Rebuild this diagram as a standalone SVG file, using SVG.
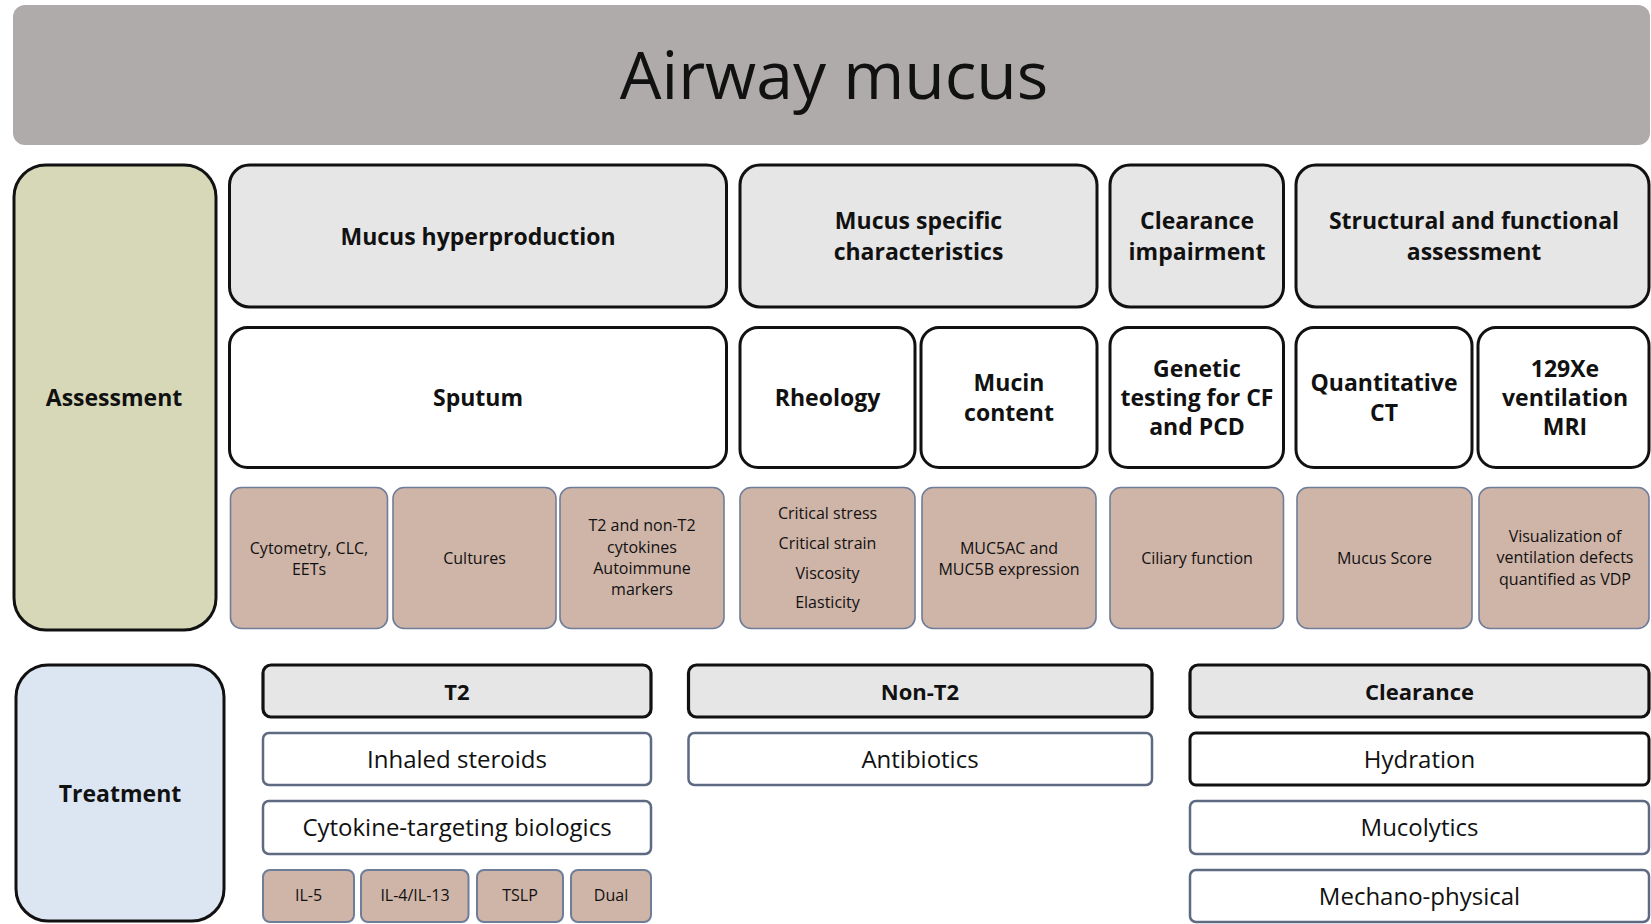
<svg xmlns="http://www.w3.org/2000/svg" width="1651" height="924" viewBox="0 0 1651 924">
<style>
text{font-family:"Open Sans","Liberation Sans",sans-serif;text-anchor:middle;dominant-baseline:central;fill:#111}
.b{font-weight:bold;font-size:23px}
.s{font-size:16px}
.m{font-size:24px}
.xs{font-size:16px}
.hd{fill:#e7e6e6;stroke:#111;stroke-width:3}
.wh{fill:#fff;stroke:#111;stroke-width:3}
.br{fill:#cfb4a8;stroke:#6f7d99;stroke-width:1.6}
.tw{fill:#fff;stroke:#5d6a82;stroke-width:2.5}
.tk{fill:#fff;stroke:#111;stroke-width:3}
.th{fill:#e7e6e6;stroke:#111;stroke-width:3.2}
</style>
<rect width="1651" height="924" fill="#fff"/>
<g id="title">
<rect x="13" y="5" width="1637" height="140" rx="12" fill="#afabab"/>
<text x="834" y="73" style="font-size:66px">Airway mucus</text>
</g>
<g id="assessment">
<rect x="14" y="165" width="202" height="465" rx="32" fill="#d6d8b8" stroke="#111" stroke-width="3"/>
<text class="b" x="114" y="397">Assessment</text>
</g>
<g id="mucus-hyperproduction">
<rect class="hd" x="229.5" y="165" width="497" height="142" rx="20"/>
<text class="b" x="478" y="236">Mucus hyperproduction</text>
</g>
<g id="mucus-specific">
<rect class="hd" x="740" y="165" width="357" height="142" rx="20"/>
<text class="b" x="918.5" y="220">Mucus specific</text>
<text class="b" x="918.5" y="251">characteristics</text>
</g>
<g id="clearance-impairment">
<rect class="hd" x="1110" y="165" width="173.5" height="142" rx="20"/>
<text class="b" x="1197" y="220">Clearance</text>
<text class="b" x="1197" y="251">impairment</text>
</g>
<g id="structural">
<rect class="hd" x="1296" y="165" width="353" height="142" rx="20"/>
<text class="b" x="1474" y="220">Structural and functional</text>
<text class="b" x="1474" y="251">assessment</text>
</g>
<g id="sputum">
<rect class="wh" x="229.5" y="327.5" width="497" height="140" rx="18"/>
<text class="b" x="478" y="397">Sputum</text>
</g>
<g id="rheology">
<rect class="wh" x="740" y="327.5" width="175" height="140" rx="18"/>
<text class="b" x="827.5" y="397">Rheology</text>
</g>
<g id="mucin-content">
<rect class="wh" x="921" y="327.5" width="176" height="140" rx="18"/>
<text class="b" x="1009" y="382">Mucin</text>
<text class="b" x="1009" y="412">content</text>
</g>
<g id="genetic-testing">
<rect class="wh" x="1110" y="327.5" width="173.5" height="140" rx="18"/>
<text class="b" x="1197" y="368">Genetic</text>
<text class="b" x="1197" y="397">testing for CF</text>
<text class="b" x="1197" y="426">and PCD</text>
</g>
<g id="quantitative-ct">
<rect class="wh" x="1296" y="327.5" width="176" height="140" rx="18"/>
<text class="b" x="1384" y="382">Quantitative</text>
<text class="b" x="1384" y="412">CT</text>
</g>
<g id="xe-mri">
<rect class="wh" x="1478" y="327.5" width="171" height="140" rx="18"/>
<text class="b" x="1565" y="368">129Xe</text>
<text class="b" x="1565" y="397">ventilation</text>
<text class="b" x="1565" y="426">MRI</text>
</g>
<g id="cytometry">
<rect class="br" x="230.5" y="487.5" width="157" height="141" rx="11"/>
<text class="s" x="309" y="547.5">Cytometry, CLC,</text>
<text class="s" x="309" y="568.5">EETs</text>
</g>
<g id="cultures">
<rect class="br" x="393" y="487.5" width="163" height="141" rx="11"/>
<text class="s" x="474.5" y="558">Cultures</text>
</g>
<g id="cytokines">
<rect class="br" x="560" y="487.5" width="164" height="141" rx="11"/>
<text class="s" x="642" y="525">T2 and non-T2</text>
<text class="s" x="642" y="546.5">cytokines</text>
<text class="s" x="642" y="567.5">Autoimmune</text>
<text class="s" x="642" y="589">markers</text>
</g>
<g id="rheology-params">
<rect class="br" x="740" y="487.5" width="175" height="141" rx="11"/>
<text class="s" x="827.5" y="513">Critical stress</text>
<text class="s" x="827.5" y="543">Critical strain</text>
<text class="s" x="827.5" y="573">Viscosity</text>
<text class="s" x="827.5" y="602">Elasticity</text>
</g>
<g id="muc-expression">
<rect class="br" x="922" y="487.5" width="174" height="141" rx="11"/>
<text class="s" x="1009" y="547.5">MUC5AC and</text>
<text class="s" x="1009" y="568.5">MUC5B expression</text>
</g>
<g id="ciliary">
<rect class="br" x="1110" y="487.5" width="173.5" height="141" rx="11"/>
<text class="s" x="1197" y="558">Ciliary function</text>
</g>
<g id="mucus-score">
<rect class="br" x="1297" y="487.5" width="175" height="141" rx="11"/>
<text class="s" x="1384.5" y="558">Mucus Score</text>
</g>
<g id="visualization">
<rect class="br" x="1479" y="487.5" width="170" height="141" rx="11"/>
<text class="s" x="1565" y="536">Visualization of</text>
<text class="s" x="1565" y="557">ventilation defects</text>
<text class="s" x="1565" y="579">quantified as VDP</text>
</g>
<g id="treatment">
<rect x="16" y="665" width="208" height="256" rx="32" fill="#dce6f2" stroke="#111" stroke-width="3"/>
<text class="b" x="120" y="793">Treatment</text>
</g>
<g id="t2">
<rect class="th" x="263" y="665" width="388" height="52" rx="8"/>
<text class="b" x="457" y="691" style="font-size:22px">T2</text>
</g>
<g id="inhaled-steroids">
<rect class="tw" x="263" y="733" width="388" height="52" rx="6"/>
<text class="m" x="457" y="758">Inhaled steroids</text>
</g>
<g id="biologics">
<rect class="tw" x="263" y="801" width="388" height="53" rx="6"/>
<text class="m" x="457" y="826.5">Cytokine-targeting biologics</text>
</g>
<g id="il5">
<rect class="br" x="263" y="870" width="91" height="52" rx="7" style="stroke-width:2"/>
<text class="xs" x="308.5" y="895">IL-5</text>
</g>
<g id="il4-il13">
<rect class="br" x="361" y="870" width="107.5" height="52" rx="7" style="stroke-width:2"/>
<text class="xs" x="415" y="895">IL-4/IL-13</text>
</g>
<g id="tslp">
<rect class="br" x="477" y="870" width="86" height="52" rx="7" style="stroke-width:2"/>
<text class="xs" x="520" y="895">TSLP</text>
</g>
<g id="dual">
<rect class="br" x="571" y="870" width="80" height="52" rx="7" style="stroke-width:2"/>
<text class="xs" x="611" y="895">Dual</text>
</g>
<g id="non-t2">
<rect class="th" x="688.5" y="665" width="463.5" height="52" rx="8"/>
<text class="b" x="920" y="691" style="font-size:22px">Non-T2</text>
</g>
<g id="antibiotics">
<rect class="tw" x="688.5" y="733" width="463.5" height="52" rx="6"/>
<text class="m" x="920" y="758">Antibiotics</text>
</g>
<g id="clearance">
<rect class="th" x="1190" y="665" width="459" height="52" rx="8"/>
<text class="b" x="1419.5" y="691" style="font-size:22px">Clearance</text>
</g>
<g id="hydration">
<rect class="tk" x="1190" y="733" width="459" height="52" rx="6"/>
<text class="m" x="1419.5" y="758">Hydration</text>
</g>
<g id="mucolytics">
<rect class="tw" x="1190" y="801" width="459" height="53" rx="6"/>
<text class="m" x="1419.5" y="826.5">Mucolytics</text>
</g>
<g id="mechano-physical">
<rect class="tw" x="1190" y="870" width="459" height="52" rx="6"/>
<text class="m" x="1419.5" y="895">Mechano-physical</text>
</g>
<g id="connectors"></g>
</svg>
